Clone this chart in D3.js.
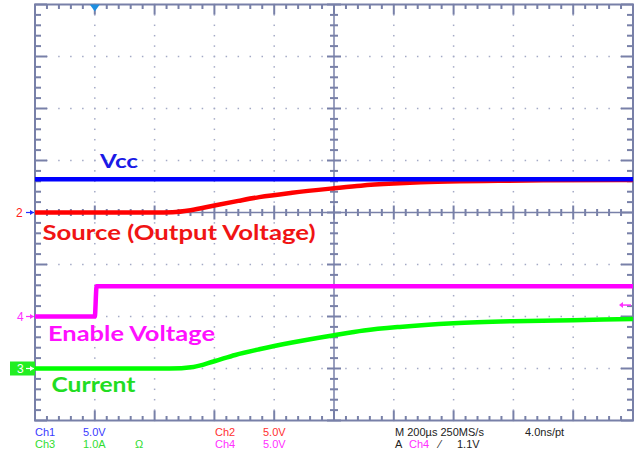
<!DOCTYPE html>
<html>
<head>
<meta charset="utf-8">
<script src="https://cdn.jsdelivr.net/npm/d3@7"></script>
<style>
body { margin: 0; background: #fff; }
svg { display: block; }
</style>
</head>
<body>
<script>
// time axis in µs, 200 µs/div, trigger at t = 0
const timeTicks = [-200, 0, 200, 400, 600, 800, 1000, 1200, 1400, 1600, 1800];
const divTicks = [-4, -3, -2, -1, 0, 1, 2, 3, 4];

// channel settings: units per div and ground position (div)
const chScale = { ch1: 5, ch2: 5, ch3: 1, ch4: 5 };
const chGround = { ch1: 0, ch2: 0, ch3: -3, ch4: -2 };

// Ch1 - Vcc (V)
const vccTime = [-200, 1800];
const vccVolts = [3.2, 3.2];

// Ch2 - Source / output voltage (V)
const sourceTime = [-200, 200, 260, 320, 400, 480, 550, 660, 800, 890, 1000, 1090, 1220, 1350, 1500, 1800];
const sourceVolts = [0, 0, 0.03, 0.22, 0.68, 1.12, 1.48, 1.9, 2.33, 2.58, 2.78, 2.9, 3.0, 3.05, 3.1, 3.13];

// Ch4 - Enable voltage (V)
const enableTime = [-200, 0, 6, 1800];
const enableVolts = [0, 0, 2.9, 2.9];

// Ch3 - Current (A)
const currentTime = [-200, 250, 330, 400, 470, 550, 660, 800, 900, 1020, 1200, 1400, 1600, 1800];
const currentAmps = [0, 0, 0.03, 0.14, 0.26, 0.37, 0.5, 0.64, 0.73, 0.8, 0.87, 0.91, 0.93, 0.95];

const width = 637, height = 457;
const plotLeft = 35, plotRight = 633, plotTop = 4.5, plotBottom = 420.5;
const gridColor = "#7880a8";
const dotColor = "#a4aac6";

let svg = d3.select("body")
    .append("svg")
    .attr("width", width)
    .attr("height", height)
    .style("font-family", "Liberation Sans, Arial, sans-serif");

svg.append("rect").attr("width", width).attr("height", height).attr("fill", "#fff");

let x = d3.scaleLinear().domain([-200, 1800]).range([plotLeft, plotRight]);
let y = d3.scaleLinear().domain([-4, 4]).range([plotBottom, plotTop]);

const xMinor = d3.range(-200, 1801, 40);
const yMinor = d3.range(-4, 4.001, 0.2).map(d => Math.round(d * 10) / 10);

// dotted grid
let grid = svg.append("g").attr("fill", dotColor);
timeTicks.slice(1, -1).forEach(t => {
    if (t === 800) return;
    yMinor.forEach(v => {
        grid.append("rect").attr("x", x(t) - 0.75).attr("y", y(v) - 0.75).attr("width", 1.5).attr("height", 1.5);
    });
});
divTicks.slice(1, -1).forEach(v => {
    if (v === 0) return;
    xMinor.forEach(t => {
        grid.append("rect").attr("x", x(t) - 0.75).attr("y", y(v) - 0.75).attr("width", 1.5).attr("height", 1.5);
    });
});

// border and ticks
let frame = svg.append("g").attr("stroke", gridColor).attr("stroke-width", 2).attr("fill", "none");
frame.append("rect")
    .attr("x", plotLeft).attr("y", plotTop)
    .attr("width", plotRight - plotLeft).attr("height", plotBottom - plotTop);

xMinor.forEach(t => {
    let major = timeTicks.includes(t);
    let len = major ? 10 : 4.5;
    frame.append("line").attr("x1", x(t)).attr("x2", x(t)).attr("y1", plotTop).attr("y2", plotTop + len);
    frame.append("line").attr("x1", x(t)).attr("x2", x(t)).attr("y1", plotBottom).attr("y2", plotBottom - len);
    let c = major ? 7 : 3.5;
    frame.append("line").attr("x1", x(t)).attr("x2", x(t)).attr("y1", y(0) - c).attr("y2", y(0) + c);
});
yMinor.forEach(v => {
    let major = divTicks.includes(v);
    let len = major ? 12 : 6;
    frame.append("line").attr("y1", y(v)).attr("y2", y(v)).attr("x1", plotLeft).attr("x2", plotLeft + len);
    frame.append("line").attr("y1", y(v)).attr("y2", y(v)).attr("x1", plotRight).attr("x2", plotRight - len);
    let c = major ? 7 : 4;
    frame.append("line").attr("y1", y(v)).attr("y2", y(v)).attr("x1", x(800) - c).attr("x2", x(800) + c);
});
frame.append("line").attr("x1", plotLeft).attr("x2", plotRight).attr("y1", y(0)).attr("y2", y(0)).attr("stroke-width", 1.5);
frame.append("line").attr("x1", x(800)).attr("x2", x(800)).attr("y1", plotTop).attr("y2", plotBottom).attr("stroke-width", 1.5);

// traces
const traceLine = (ch) => d3.line()
    .x(d => x(d[0]))
    .y(d => y(chGround[ch] + d[1] / chScale[ch]))
    .curve(d3.curveMonotoneX);

const traces = [
    { ch: "ch2", color: "#ff0000", data: d3.zip(sourceTime, sourceVolts) },
    { ch: "ch1", color: "#0000ff", data: d3.zip(vccTime, vccVolts) },
    { ch: "ch4", color: "#ff00ff", data: d3.zip(enableTime, enableVolts) },
    { ch: "ch3", color: "#00ff00", data: d3.zip(currentTime, currentAmps) }
];

traces.forEach(tr => {
    svg.append("path")
        .attr("d", traceLine(tr.ch)(tr.data))
        .attr("fill", "none")
        .attr("stroke", tr.color)
        .attr("stroke-width", 4.5)
        .attr("stroke-linejoin", "round");
});

// ground markers on the left
const arrow = (g, yy, color) => {
    g.append("line").attr("x1", 26).attr("x2", plotLeft - 1).attr("y1", yy).attr("y2", yy)
        .attr("stroke", color).attr("stroke-width", 1.2);
    g.append("path").attr("d", `M${plotLeft - 1},${yy} l-4,-2.5 l0,5 z`).attr("fill", color);
};
let markers = svg.append("g").style("font-size", "12px");
markers.append("text").attr("x", 16).attr("y", y(chGround.ch2) + 4).attr("fill", "#ff2020").text("2");
arrow(markers, y(chGround.ch1), "#2030ff");
markers.append("text").attr("x", 17).attr("y", y(chGround.ch4) + 4).attr("fill", "#ff30ff").text("4");
arrow(markers, y(chGround.ch4), "#ff30ff");
markers.append("rect").attr("x", 10).attr("y", y(chGround.ch3) - 7).attr("width", plotLeft - 10).attr("height", 14).attr("fill", "#22ee22");
markers.append("text").attr("x", 17).attr("y", y(chGround.ch3) + 4).attr("fill", "#fff").text("3");
arrow(markers, y(chGround.ch3), "#fff");

// trigger position marker
svg.append("path")
    .attr("d", `M${x(0) - 5},${plotTop} L${x(0) + 5},${plotTop} L${x(0)},${plotTop + 7} z`)
    .attr("fill", "#1e8fe0");

// trigger level marker (Ch4) on the right
let trigY = y(chGround.ch4 + 1.1 / chScale.ch4);
svg.append("line").attr("x1", 621).attr("x2", 631).attr("y1", trigY).attr("y2", trigY)
    .attr("stroke", "#ff30ff").attr("stroke-width", 1.5);
svg.append("path").attr("d", `M619,${trigY} l4,-3 l0,6 z`).attr("fill", "#ff30ff");

// trace labels (screenshot is stretched sideways, so fit each to its width)
const labels = [
    { text: "Vcc", x: 100, y: 168, w: 38, size: 19, color: "#1a1ae6" },
    { text: "Source (Output Voltage)", x: 42.5, y: 240, w: 273, size: 21, color: "#f01414" },
    { text: "Enable Voltage", x: 48, y: 341, w: 167, size: 21, color: "#ff10ff" },
    { text: "Current", x: 51.5, y: 392, w: 84, size: 21, color: "#22dd22" }
];
svg.selectAll(".label")
    .data(labels)
    .enter()
    .append("text")
    .attr("class", "label")
    .attr("x", d => d.x)
    .attr("y", d => d.y)
    .attr("fill", d => d.color)
    .attr("textLength", d => d.w)
    .attr("lengthAdjust", "spacingAndGlyphs")
    .style("font-family", "Lato, sans-serif")
    .style("font-weight", "bold")
    .style("font-size", d => d.size + "px")
    .text(d => d.text);

// status line at the bottom
const status = [
    { t: "Ch1", x: 35, y: 436, c: "#3a3aff" },
    { t: "5.0V", x: 83, y: 436, c: "#3a3aff" },
    { t: "Ch2", x: 215, y: 436, c: "#ff3030" },
    { t: "5.0V", x: 263, y: 436, c: "#ff3030" },
    { t: "Ch3", x: 35, y: 448, c: "#30dd30" },
    { t: "1.0A", x: 83, y: 448, c: "#30dd30" },
    { t: "Ω", x: 135, y: 448, c: "#30dd30" },
    { t: "Ch4", x: 215, y: 448, c: "#ff30ff" },
    { t: "5.0V", x: 263, y: 448, c: "#ff30ff" },
    { t: "M 200µs 250MS/s", x: 395, y: 436, c: "#222" },
    { t: "4.0ns/pt", x: 525, y: 436, c: "#222" },
    { t: "A", x: 395, y: 448, c: "#222" },
    { t: "Ch4", x: 409, y: 448, c: "#ff30ff" },
    { t: "⁄", x: 439, y: 448, c: "#222" },
    { t: "1.1V", x: 457, y: 448, c: "#222" }
];
svg.selectAll(".status")
    .data(status)
    .enter()
    .append("text")
    .attr("class", "status")
    .attr("x", d => d.x)
    .attr("y", d => d.y)
    .attr("fill", d => d.c)
    .style("font-size", "11px")
    .text(d => d.t);
</script>
</body>
</html>
